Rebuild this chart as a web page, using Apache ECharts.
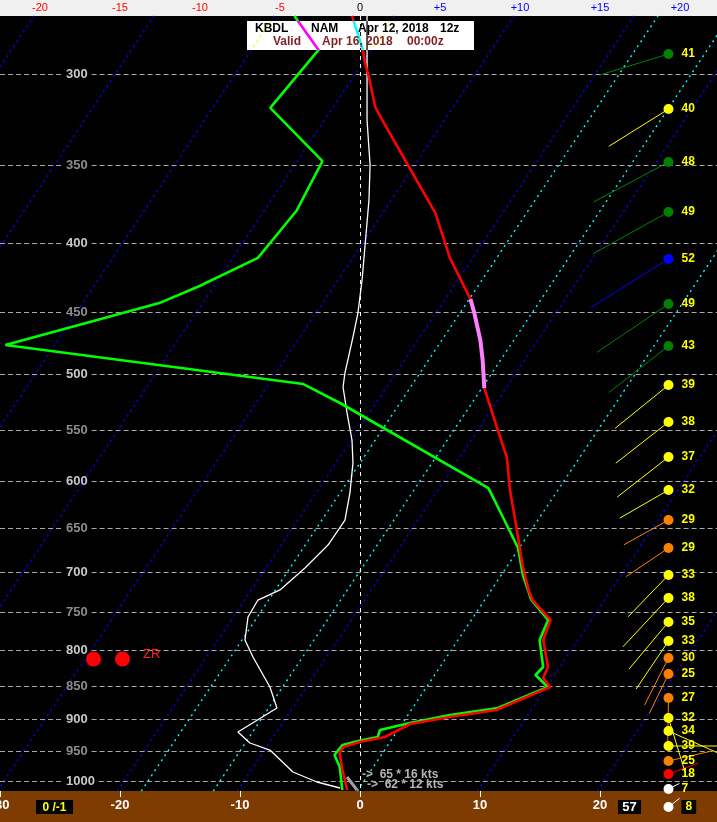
<!DOCTYPE html>
<html><head><meta charset="utf-8">
<script src="https://cdn.jsdelivr.net/npm/echarts@6/dist/echarts.min.js"></script>
<style>html,body{margin:0;padding:0;background:#000;}#c{width:717px;height:822px;}</style>
</head><body><div id="c"></div>
<script>
// ---- data ----
const tempP = [271.6, 287.8, 294.3, 301.4, 317.2, 324.3, 380.0, 410.2, 440.0, 450.6, 471.8, 488.1, 512.0, 547.1, 575.8, 609.1, 652.1, 692.1, 722.2, 734.7, 760.1, 786.4, 823.5, 839.0, 852.0, 886.1, 896.7, 907.5, 927.8, 935.7, 943.7, 953.4, 981.4, 1015.5];
const tempC = [-43.5, -40.7, -39.8, -38.7, -36.5, -35.2, -25.6, -21.9, -17.9, -16.8, -14.8, -13.5, -11.8, -8.6, -6.1, -4.0, -1.2, 1.2, 3.1, 4.0, 6.6, 7.1, 9.0, 9.2, 10.3, 7.1, 3.6, 0.7, -0.7, -2.5, -3.6, -3.6, -2.4, -0.9];
const dewP = [271.6, 287.8, 317.7, 347.8, 378.7, 410.2, 430.3, 443.0, 475.8, 508.5, 525.2, 607.1, 641.1, 672.4, 704.0, 734.7, 760.1, 786.4, 823.5, 834.8, 852.0, 883.0, 893.6, 905.9, 916.8, 927.8, 934.1, 940.5, 956.7, 976.4, 1015.5];
const dewC = [-48.3, -44.4, -45.2, -37.9, -37.3, -37.9, -41.2, -43.6, -54.1, -27.1, -23.0, -5.9, -2.8, -0.1, 1.8, 3.9, 6.4, 6.8, 8.6, 8.4, 10.1, 7.1, 3.5, 0.6, -1.5, -1.3, -2.7, -3.8, -3.9, -2.8, -1.3];
const whiteP = [271.6, 324.3, 350.2, 371.7, 425.9, 450.6, 469.4, 499.0, 511.1, 534.2, 559.4, 581.8, 612.2, 641.1, 669.0, 695.7, 722.2, 734.7, 756.3, 786.4, 809.6, 852.0, 883.0, 919.9, 937.3, 948.6, 984.8, 1001.7, 1012.0];
const whiteV = [0.44, 0.44, 0.63, 0.56, 0.13, -0.13, -0.44, -0.94, -1.06, -0.81, -0.5, -0.44, -0.63, -0.94, -2.0, -3.44, -5.0, -6.38, -7.0, -7.19, -6.69, -5.63, -5.19, -7.63, -6.88, -5.63, -4.19, -2.69, -1.25];
const stormP = [993.2, 1015.5];
const stormV = [-0.81, -0.19];
const windP = [289.8, 318.3, 348.4, 379.3, 410.9, 443.7, 476.6, 509.4, 542.5, 575.8, 609.1, 641.1, 672.4, 704.0, 732.1, 762.7, 787.8, 811.0, 833.4, 868.1, 898.2, 918.3, 942.1, 966.5, 988.1, 1013.7, 1045.3];
const windDir = [253, 238, 242, 241, 238, 236, 232, 231, 232, 232, 240, 241, 236, 224, 223, 220, 214, 207, 206, 181, 163, 114, 90, 77, 70, 63, 52];
const windSpd = [41, 40, 48, 49, 52, 49, 43, 39, 38, 37, 32, 29, 29, 33, 38, 35, 33, 30, 25, 27, 32, 34, 39, 25, 18, 7, 8];
const isobars = [300, 350, 400, 450, 500, 550, 600, 650, 700, 750, 800, 850, 900, 950, 1000];
const blueIsotherms = [-110, -100, -90, -80, -70, -60, -50, -40, -30, -20, -10, 10, 20, 30];
const cyanIsotherms = [-18, -12, 0];
const bottomTicks = [-30, -20, -10, 0, 10, 20];
const topTicks = [-20, -15, -10, -5, 0, 5, 10, 15, 20];
const headerLine1 = ['KBDL', 'NAM', 'Apr 12, 2018', '12z'];
const headerLine2 = ['Valid', 'Apr 16, 2018', '00:00z'];
const sfcText = '0 /-1';
const rightBoxText = '57';
const motionText = ['->  65 * 16 kts', '->  62 * 12 kts'];
const ptypeText = 'ZR';

// ---- layout constants ----
const P_TOP = 271.64, P_BOT = 1017.18;
const SKEW = 32.61, P_REF = 1010.2;
const skewX = (t, p) => t + SKEW * Math.log(P_REF / p);
const FONT = 'Liberation Sans, Arial, sans-serif';

function speedColor(s) {
  if (s < 10) return '#ffffff';
  if (s <= 20) return '#ff0000';
  if (s <= 30) return '#ff8000';
  if (s <= 40) return '#ffff00';
  if (s <= 50) return '#008000';
  return '#0000ff';
}

const chart = echarts.init(document.getElementById('c'), null, {renderer: 'canvas'});

function isoRender(color) {
  return function (params, api) {
    const t = api.value(0);
    const a = api.coord([skewX(t, P_BOT), P_BOT]);
    const b = api.coord([skewX(t, P_TOP), P_TOP]);
    return {type: 'line', shape: {x1: a[0], y1: a[1], x2: b[0], y2: b[1]},
      style: {stroke: color, lineWidth: 1.4, lineDash: [2, 4]}};
  };
}

const dgzIdx = tempC.map((t, i) => i).filter(i => tempC[i] >= -18 && tempC[i] <= -11.5);

const option = {
  backgroundColor: '#000',
  animation: false,
  grid: {left: 0, right: 0, top: 16, bottom: 31, containLabel: false, outerBoundsMode: 'none'},
  xAxis: [
    {type: 'value', position: 'bottom', min: -30, max: 29.75, interval: 10, z: 20,
      axisLine: {show: false}, splitLine: {show: false},
      axisTick: {show: true, length: 6, lineStyle: {color: '#fff', width: 1}},
      axisLabel: {show: true, color: '#fff', fontWeight: 'bold', fontSize: 13, fontFamily: FONT, margin: 8,
        customValues: bottomTicks}},
    {type: 'value', position: 'top', min: -22.5, max: 22.3125, z: 20,
      axisLine: {show: false}, splitLine: {show: false}, axisTick: {show: false},
      axisLabel: {show: true, fontSize: 11, fontFamily: FONT, margin: 3, customValues: topTicks,
        formatter: v => v < 0 ? '{n|' + v + '}' : (v === 0 ? '{z|0}' : '{p|+' + v + '}'),
        rich: {n: {color: '#ff0000', fontSize: 11, fontFamily: FONT},
               z: {color: '#000000', fontSize: 11, fontFamily: FONT},
               p: {color: '#0000ff', fontSize: 11, fontFamily: FONT}}}}
  ],
  yAxis: [{type: 'log', min: P_TOP, max: P_BOT, inverse: true, show: false,
    axisLine: {show: false}, axisLabel: {show: false}, splitLine: {show: false}, axisTick: {show: false}}],
  graphic: [
    {type: 'rect', z: 1, shape: {x: 0, y: 0, width: 717, height: 16}, style: {fill: '#f0f0f0'}},
    {type: 'rect', z: 1, shape: {x: 0, y: 791, width: 717, height: 31}, style: {fill: '#7f3c00'}},
    // header box (inverting like the original)
    {type: 'rect', z: 50, shape: {x: 247, y: 21, width: 227, height: 29}, style: {fill: '#ffffff', blend: 'difference'}},
    {type: 'text', z: 51, style: {text: headerLine1[0], x: 255, y: 29, verticalAlign: 'middle', fill: '#000', font: 'bold 12px ' + FONT}},
    {type: 'text', z: 51, style: {text: headerLine1[1], x: 311, y: 29, verticalAlign: 'middle', fill: '#000', font: 'bold 12px ' + FONT}},
    {type: 'text', z: 51, style: {text: headerLine1[2], x: 358, y: 29, verticalAlign: 'middle', fill: '#000', font: 'bold 12px ' + FONT}},
    {type: 'text', z: 51, style: {text: headerLine1[3], x: 440, y: 29, verticalAlign: 'middle', fill: '#000', font: 'bold 12px ' + FONT}},
    {type: 'text', z: 51, style: {text: headerLine2[0], x: 273, y: 42, verticalAlign: 'middle', fill: '#7f1f1f', font: 'bold 12px ' + FONT}},
    {type: 'text', z: 51, style: {text: headerLine2[1], x: 322, y: 42, verticalAlign: 'middle', fill: '#7f1f1f', font: 'bold 12px ' + FONT}},
    {type: 'text', z: 51, style: {text: headerLine2[2], x: 407, y: 42, verticalAlign: 'middle', fill: '#7f1f1f', font: 'bold 12px ' + FONT}},
    // precip type
    {type: 'circle', z: 30, shape: {cx: 93.5, cy: 659, r: 7.5}, style: {fill: '#ff0000'}},
    {type: 'circle', z: 30, shape: {cx: 122.5, cy: 659, r: 7.5}, style: {fill: '#ff0000'}},
    {type: 'text', z: 30, style: {text: ptypeText, x: 143, y: 654, verticalAlign: 'middle', fill: '#ff2020', font: '13px ' + FONT}},
    // surface boxes
    {type: 'rect', z: 30, shape: {x: 36, y: 800, width: 37, height: 14}, style: {fill: '#000'}},
    {type: 'text', z: 31, style: {text: sfcText, x: 54.5, y: 807.5, align: 'center', verticalAlign: 'middle', fill: '#ffff00', font: 'bold 12px ' + FONT}},
    {type: 'rect', z: 30, shape: {x: 618, y: 800, width: 23, height: 14}, style: {fill: '#000'}},
    {type: 'text', z: 31, style: {text: rightBoxText, x: 629.5, y: 807.5, align: 'center', verticalAlign: 'middle', fill: '#ffffff', font: 'bold 13px ' + FONT}},
    // storm motion text
    {type: 'text', z: 30, style: {text: motionText[0], x: 362, y: 775, verticalAlign: 'middle', fill: '#b4b4b4', font: 'bold 12px ' + FONT}},
    {type: 'text', z: 30, style: {text: motionText[1], x: 367, y: 785, verticalAlign: 'middle', fill: '#b4b4b4', font: 'bold 12px ' + FONT}}
  ],
  series: [
    {type: 'custom', name: 'isotherms', coordinateSystem: 'cartesian2d', z: 1, silent: true,
      data: blueIsotherms.map(t => [t]), renderItem: isoRender('#0000ff')},
    {type: 'custom', name: 'dgz isotherms', coordinateSystem: 'cartesian2d', z: 1, silent: true,
      data: cyanIsotherms.map(t => [t]), renderItem: isoRender('#00ffff')},
    {type: 'custom', name: 'isobars', coordinateSystem: 'cartesian2d', z: 2, silent: true,
      data: isobars.map(p => [p]),
      renderItem: function (params, api) {
        const p = api.value(0);
        const y = Math.round(api.coord([0, p])[1]) + 0.5;
        const w = api.getWidth();
        const txt = String(p);
        const lx = 66, tw = txt.length * 7.2;
        const col = p % 100 === 0 ? '#c8c8c8' : '#8c8c8c';
        return {type: 'group', children: [
          {type: 'line', shape: {x1: 0, y1: y, x2: lx - 4, y2: y}, style: {stroke: '#a8a8a8', lineWidth: 1, lineDash: [5, 3]}},
          {type: 'line', shape: {x1: lx + tw + 4, y1: y, x2: w, y2: y}, style: {stroke: '#a8a8a8', lineWidth: 1, lineDash: [5, 3]}},
          {type: 'text', style: {text: txt, x: lx, y: y, verticalAlign: 'middle', fill: col, font: 'bold 13px ' + FONT}}
        ]};
      }},
    {type: 'line', name: 'zero', xAxisIndex: 1, data: [], z: 3, silent: true,
      markLine: {silent: true, symbol: ['none', 'none'], label: {show: false},
        lineStyle: {color: '#ffffff', width: 1, type: [4, 4]}, data: [{xAxis: 0}]}},
    {type: 'line', name: 'white', xAxisIndex: 1, z: 4, showSymbol: false, silent: true,
      data: whiteP.map((p, i) => [whiteV[i], p]), lineStyle: {color: '#ffffff', width: 1.3}},
    {type: 'line', name: 'motion', xAxisIndex: 1, z: 4, showSymbol: false, silent: true,
      data: stormP.map((p, i) => [stormV[i], p]), lineStyle: {color: '#a0a0a0', width: 3}},
    {type: 'line', name: 'dewpoint', z: 5, showSymbol: false, silent: true,
      data: dewP.map((p, i) => [skewX(dewC[i], p), p]), lineStyle: {color: '#00ff00', width: 2.6}},
    {type: 'line', name: 'temperature', z: 6, showSymbol: false, silent: true,
      data: tempP.map((p, i) => [skewX(tempC[i], p), p]), lineStyle: {color: '#ff0000', width: 2.6}},
    {type: 'line', name: 'dgz', z: 7, showSymbol: false, silent: true,
      data: dgzIdx.map(i => [skewX(tempC[i], tempP[i]), tempP[i]]), lineStyle: {color: '#ff80ff', width: 4}},
    {type: 'custom', name: 'wind', coordinateSystem: 'cartesian2d', z: 40, silent: true, clip: false,
      data: windP.map((p, i) => [p, windDir[i], windSpd[i]]),
      renderItem: function (params, api) {
        const p = api.value(0), dir = api.value(1), spd = api.value(2);
        const y = api.coord([0, p])[1];
        const x = api.getWidth() - 48.5;
        const L = spd * 1.76;
        const r = dir * Math.PI / 180;
        const col = speedColor(spd);
        const onBand = p > P_BOT + 10;
        return {type: 'group', children: [
          {type: 'line', shape: {x1: x, y1: y, x2: x + Math.sin(r) * L, y2: y - Math.cos(r) * L}, style: {stroke: col, lineWidth: 1}},
          {type: 'circle', shape: {cx: x, cy: y, r: 5}, style: {fill: col}},
          {type: 'text', style: {text: String(spd), x: x + 13, y: y, verticalAlign: 'middle', fill: '#ffff00',
            font: 'bold 12px ' + FONT, backgroundColor: onBand ? '#000' : 'transparent', padding: onBand ? [1, 4, 1, 4] : 0}}
        ]};
      }}
  ]
};
chart.setOption(option);
</script></body></html>
